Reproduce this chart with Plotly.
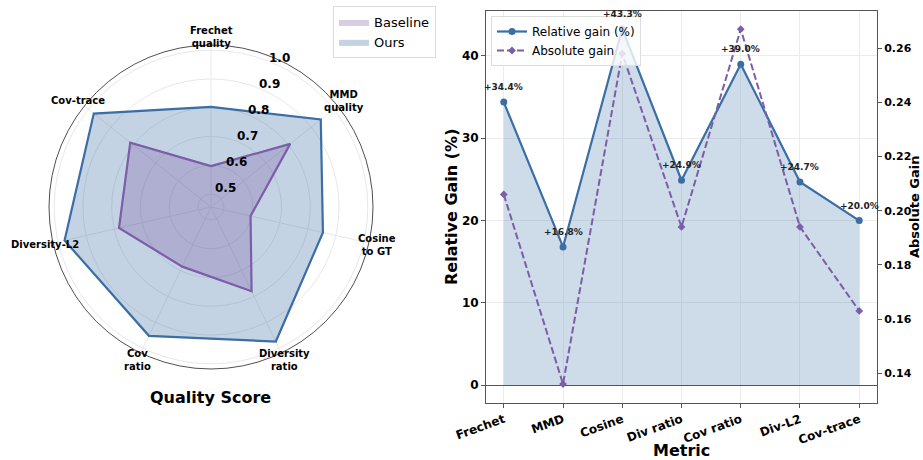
import math
import plotly.graph_objects as go

# ---------------- data ----------------
radar_labels = ["Frechet<br>quality", "MMD<br>quality", "Cosine<br>to GT", "Diversity<br>ratio",
                "Cov<br>ratio", "Diversity-L2", "Cov-trace"]
baseline = [0.597, 0.807, 0.596, 0.780, 0.685, 0.783, 0.814]
ours = [0.803, 0.943, 0.854, 0.974, 0.952, 0.977, 0.976]
radial_ticks = [0.5, 0.6, 0.7, 0.8, 0.9, 1.0]
radial_range = [0.455, 1.018]

metrics = ["Frechet", "MMD", "Cosine", "Div ratio", "Cov ratio", "Div-L2", "Cov-trace"]
rel_gain = [34.4, 16.8, 43.3, 24.9, 39.0, 24.7, 20.0]
abs_gain = [0.206, 0.136, 0.258, 0.194, 0.267, 0.194, 0.163]
left_ticks = [0, 10, 20, 30, 40]
right_ticks = [0.14, 0.16, 0.18, 0.20, 0.22, 0.24, 0.26]

BLUE = "#3a6ea5"
PURPLE = "#7b5ea7"
FONT = "DejaVu Sans"
W, H = 923, 460

# polar placement (pixels)
CX, CY, R = 211, 207, 159
LABEL_R = 1.07 * R
RLABEL_ANGLE = math.radians(22.5)  # clockwise from north

fig = go.Figure()

# ---------------- radar ----------------
th = radar_labels + radar_labels[:1]
fig.add_trace(go.Scatterpolar(r=ours + ours[:1], theta=th, mode="lines", fill="toself",
                              fillcolor="rgba(58,110,165,0.30)", line=dict(color=BLUE, width=2.2),
                              showlegend=False, hoverinfo="skip"))
fig.add_trace(go.Scatterpolar(r=baseline + baseline[:1], theta=th, mode="lines", fill="toself",
                              fillcolor="rgba(123,94,167,0.30)", line=dict(color=PURPLE, width=2.2),
                              showlegend=False, hoverinfo="skip"))
# legend patches
fig.add_trace(go.Scatterpolar(r=[None], theta=[radar_labels[0]], mode="lines", fill="toself",
                              fillcolor="rgba(123,94,167,0.30)", line=dict(color="rgba(0,0,0,0)", width=0),
                              name="Baseline", legend="legend"))
fig.add_trace(go.Scatterpolar(r=[None], theta=[radar_labels[0]], mode="lines", fill="toself",
                              fillcolor="rgba(58,110,165,0.30)", line=dict(color="rgba(0,0,0,0)", width=0),
                              name="Ours", legend="legend"))

# ---------------- right chart ----------------
fig.add_trace(go.Scatter(x=metrics, y=rel_gain, mode="lines", fill="tozeroy",
                         fillcolor="rgba(58,110,165,0.25)", line=dict(width=0, color="rgba(0,0,0,0)"),
                         showlegend=False, hoverinfo="skip", xaxis="x", yaxis="y"))
fig.add_trace(go.Scatter(x=metrics, y=rel_gain, mode="lines+markers", name="Relative gain (%)",
                         line=dict(color=BLUE, width=2.2), marker=dict(size=7, color=BLUE),
                         legend="legend2", xaxis="x", yaxis="y"))
fig.add_trace(go.Scatter(x=metrics, y=abs_gain, mode="lines+markers", name="Absolute gain",
                         line=dict(color=PURPLE, width=2, dash="7px,3px"),
                         marker=dict(size=6, color=PURPLE, symbol="diamond"),
                         legend="legend2", xaxis="x", yaxis="y2"))

annotations = []
for m, g in zip(metrics, rel_gain):
    annotations.append(dict(x=m, y=g, xref="x", yref="y", text=f"<b>+{g:.1f}%</b>", showarrow=False,
                            yshift=15, font=dict(family=FONT, size=9, color="#222")))

# radar category labels, centred on a circle just outside the plot
n = len(radar_labels)
for i, lab in enumerate(radar_labels):
    a = 2 * math.pi * i / n
    px = CX + LABEL_R * math.sin(a)
    py = CY - LABEL_R * math.cos(a)
    txt = "<br>".join(f"<b>{p}</b>" for p in lab.split("<br>"))
    annotations.append(dict(x=px / W, y=1 - py / H, xref="paper", yref="paper", text=txt,
                            xanchor="center", yanchor="middle", showarrow=False,
                            font=dict(family=FONT, size=10, color="black")))

# radial tick labels (matplotlib style: along 22.5 deg, nudged right/up)
span = radial_range[1] - radial_range[0]
for v in radial_ticks:
    rp = R * (v - radial_range[0]) / span
    px = CX + rp * math.sin(RLABEL_ANGLE) + 10
    py = CY - rp * math.cos(RLABEL_ANGLE) - 7
    annotations.append(dict(x=px / W, y=1 - py / H, xref="paper", yref="paper", text=f"<b>{v:.1f}</b>",
                            xanchor="center", yanchor="middle", showarrow=False,
                            font=dict(family=FONT, size=12, color="black")))


def paper_text(x, y, text, size, angle=0):
    return dict(x=x / W, y=1 - y / H, xref="paper", yref="paper", text=f"<b>{text}</b>",
                textangle=angle, showarrow=False, xanchor="center", yanchor="middle",
                font=dict(family=FONT, size=size, color="black"))


annotations += [
    paper_text(210, 397, "Quality Score", 16),
    paper_text(452, 207, "Relative Gain (%)", 16, -90),
    paper_text(681, 450, "Metric", 16),
    paper_text(915, 207, "Absolute Gain", 13, -90),
]

fig.update_layout(
    width=W, height=H, margin=dict(l=0, r=0, t=0, b=0, pad=0, autoexpand=False),
    paper_bgcolor="white", plot_bgcolor="white",
    font=dict(family=FONT, color="black"),
    polar=dict(
        domain=dict(x=[(CX - R - 3) / W, (CX + R + 3) / W], y=[1 - (CY + R + 3) / H, 1 - (CY - R - 3) / H]),
        bgcolor="white",
        angularaxis=dict(direction="clockwise", rotation=90, showline=True, linecolor="#222",
                         linewidth=0.8, gridcolor="#e8e8e8", ticks="", showticklabels=False,
                         categoryorder="array", categoryarray=radar_labels),
        radialaxis=dict(range=radial_range, tickvals=radial_ticks, showticklabels=False,
                        angle=67.5, showline=False, ticks="", gridcolor="#e8e8e8"),
    ),
    xaxis=dict(domain=[486 / W, 877 / W], range=[-0.3, 6.3], tickangle=-20, automargin=False,
               tickvals=metrics, ticktext=[f"<b>{m}</b>" for m in metrics],
               tickfont=dict(family=FONT, size=12), showgrid=True, gridcolor="#ececec",
               showline=True, linecolor="#555", linewidth=1, mirror=True,
               ticks="outside", ticklen=4, tickcolor="#555"),
    yaxis=dict(domain=[1 - 403 / H, 1 - 11 / H], range=[-2.165, 45.465], tickvals=left_ticks,
               automargin=False,
               ticktext=[f"<b>{v}</b>" for v in left_ticks], tickfont=dict(family=FONT, size=12),
               showgrid=True, gridcolor="#ececec", zeroline=True, zerolinecolor="#555", zerolinewidth=1.2,
               showline=True, linecolor="#555", linewidth=1, mirror=True,
               ticks="outside", ticklen=4, tickcolor="#555"),
    yaxis2=dict(overlaying="y", side="right", anchor="x", range=[0.129, 0.2737], tickvals=right_ticks,
                automargin=False,
                ticktext=[f"<b>{v:.2f}</b>" for v in right_ticks], tickfont=dict(family=FONT, size=11),
                showgrid=False, zeroline=False, showline=True, linecolor="#555", linewidth=1,
                ticks="outside", ticklen=4, tickcolor="#555"),
    legend=dict(x=333 / W, y=1 - 6 / H, xanchor="left", yanchor="top", bgcolor="white",
                bordercolor="#dddddd", borderwidth=1, font=dict(family=FONT, size=13)),
    legend2=dict(x=491 / W, y=1 - 16 / H, xanchor="left", yanchor="top",
                 bgcolor="rgba(255,255,255,0.8)", bordercolor="#dddddd", borderwidth=1,
                 font=dict(family=FONT, size=12), tracegroupgap=0),
    annotations=annotations,
)

fig.write_html("out.html", config={"displayModeBar": False},
               post_script="document.body.style.margin='0';")
